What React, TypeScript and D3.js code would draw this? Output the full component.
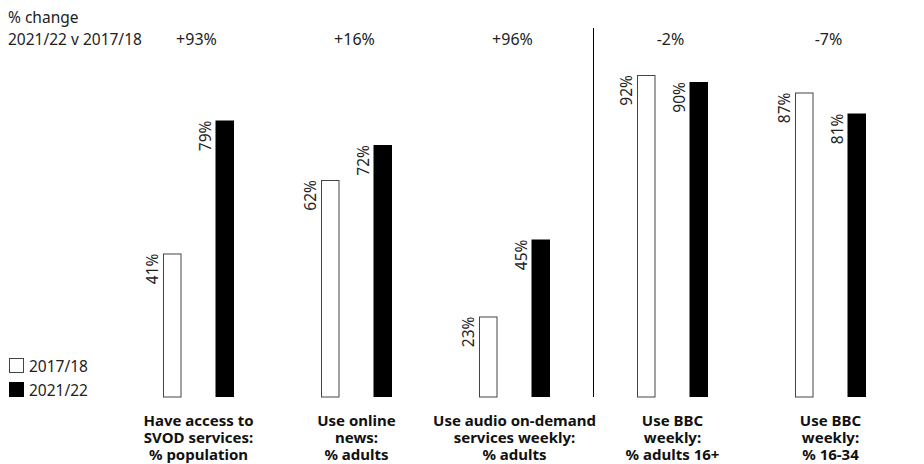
import React from "react";
import * as d3 from "d3";

const categories = [
  "Have access to|SVOD services:|% population",
  "Use online|news:|% adults",
  "Use audio on-demand|services weekly:|% adults",
  "Use BBC|weekly:|% adults 16+",
  "Use BBC|weekly:|% 16-34",
];
const series = ["2017/18", "2021/22"];
const values2017 = [41, 62, 23, 92, 87];
const values2021 = [79, 72, 45, 90, 81];
const changes = ["+93%", "+16%", "+96%", "-2%", "-7%"];

const W = 924;
const H = 464;
const FONT = "'Noto Sans', 'Open Sans', sans-serif";
const TXT = "#222";
const FS = 15.5;

export default function App() {
  const x = d3.scaleBand<string>().domain(categories).range([119.5, 909.5]).padding(0);
  const inner = d3
    .scaleBand<string>()
    .domain(series)
    .range([-35.5, 35.5])
    .paddingInner(1 - 18.5 / 52.5)
    .paddingOuter(0);
  const y = d3.scaleLinear().domain([0, 100]).range([397, 47]);
  const center = (c: string) => (x(c) as number) + x.bandwidth() / 2;
  const sepX = (center(categories[2]) + center(categories[3])) / 2;

  const bars: { c: string; s: string; v: number; i: number }[] = [];
  categories.forEach((c, i) => {
    bars.push({ c, s: series[0], v: values2017[i], i });
    bars.push({ c, s: series[1], v: values2021[i], i });
  });

  return (
    <svg
      width={W}
      height={H}
      style={{ position: "absolute", left: 0, top: 0, background: "#fff" }}
      fontFamily={FONT}
    >
      <text x={8} y={23} fontSize={FS} fill={TXT}>% change</text>
      <text x={8} y={45} fontSize={FS} fill={TXT}>2021/22 v 2017/18</text>
      {categories.map((c, i) => (
        <text key={"ch" + i} x={center(c) - 2} y={45} fontSize={16} fill={TXT} textAnchor="middle">
          {changes[i]}
        </text>
      ))}
      <line x1={sepX} x2={sepX} y1={28} y2={y(0)} stroke="#000" strokeWidth={1} />
      {bars.map((b, k) => {
        const bx = center(b.c) + (inner(b.s) as number);
        const top = y(b.v);
        const first = b.s === series[0];
        return (
          <g key={"b" + k}>
            <rect
              x={bx + (first ? 0.5 : 0)}
              y={top + (first ? 0.5 : 0)}
              width={inner.bandwidth() - (first ? 1 : 0)}
              height={y(0) - top - (first ? 0.5 : 0)}
              fill={first ? "#fff" : "#000"}
              stroke={first ? "#444" : "none"}
              strokeWidth={1}
            />
            <text
              transform={`translate(${bx - 5},${top}) rotate(-90)`}
              fontSize={FS}
              fill={TXT}
              textAnchor="end"
            >
              {b.v}%
            </text>
          </g>
        );
      })}
      {categories.map((c, i) => (
        <text key={"lab" + i} x={center(c)} fontSize={15} fontWeight="bold" fill="#111" textAnchor="middle">
          {c.split("|").map((line, j) => (
            <tspan key={j} x={center(c)} y={426 + j * 17}>
              {line}
            </tspan>
          ))}
        </text>
      ))}
      <rect x={9.5} y={358.5} width={14} height={14} fill="#fff" stroke="#444" />
      <rect x={9} y={382} width={15} height={15} fill="#000" />
      <text x={29} y={372} fontSize={FS} fill={TXT}>{series[0]}</text>
      <text x={29} y={396} fontSize={FS} fill={TXT}>{series[1]}</text>
    </svg>
  );
}
